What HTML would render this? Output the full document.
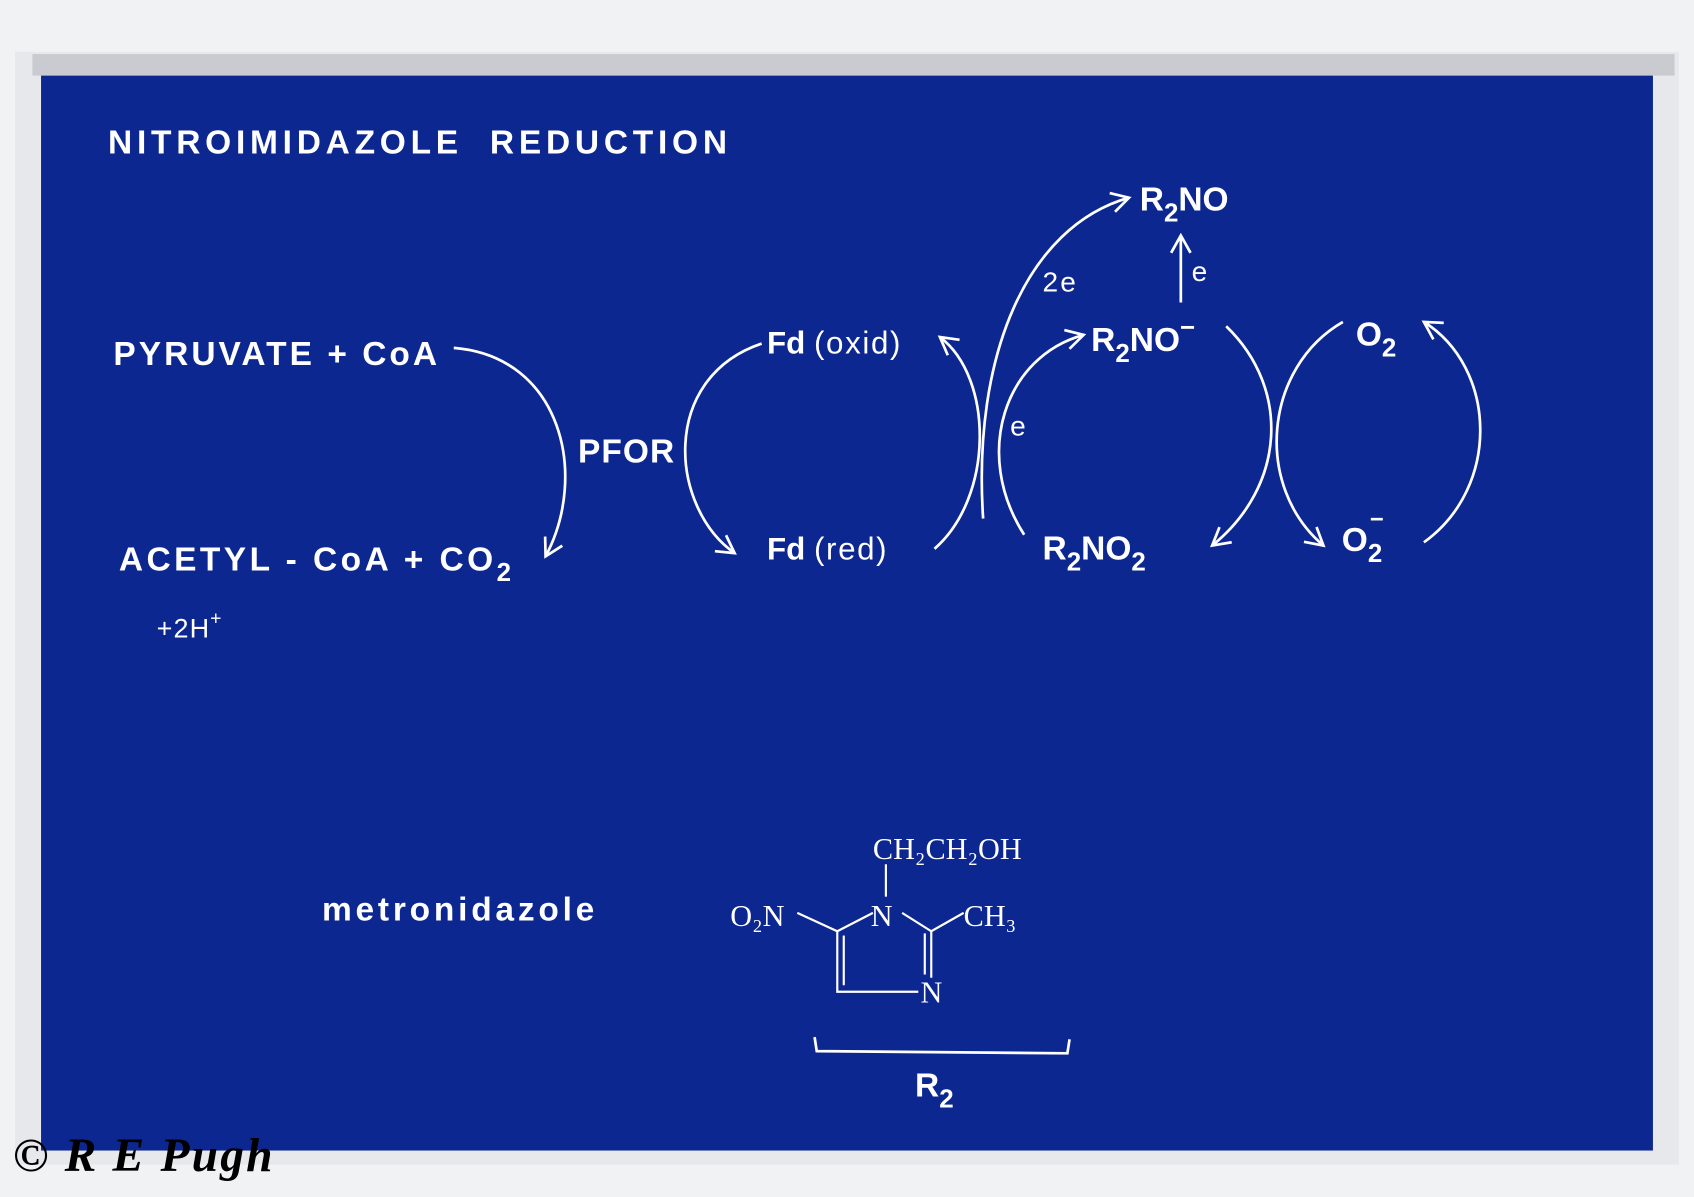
<!DOCTYPE html>
<html><head><meta charset="utf-8"><style>
html,body{margin:0;padding:0;width:1694px;height:1197px;overflow:hidden;background:#eef0f3}
svg{display:block}
text{font-family:"Liberation Sans",sans-serif;fill:#fff}
</style></head><body>
<svg width="1694" height="1197" viewBox="0 0 1568 1108" preserveAspectRatio="none" xmlns="http://www.w3.org/2000/svg">
<defs>
<marker id="b" markerWidth="22" markerHeight="22" refX="18" refY="11" orient="auto" markerUnits="userSpaceOnUse" viewBox="0 0 22 22">
<path d="M2,2 L18,11 L2,20" fill="none" stroke="#fff" stroke-width="2.5"/></marker>
</defs>
<rect x="0" y="0" width="1568" height="1108" fill="#f1f2f4"/>
<rect x="14" y="48" width="1540" height="1030" fill="#e6e8ec"/>
<rect x="30" y="50" width="1520" height="20" fill="#c9cbd0"/>
<rect x="38" y="70" width="1492" height="995" fill="#0d2790"/>
<g font-weight="bold">
<text x="100" y="142" font-size="31" letter-spacing="4.4" word-spacing="12">NITROIMIDAZOLE REDUCTION</text>
<text x="105" y="338" font-size="31" letter-spacing="2.8">PYRUVATE + CoA</text>
<text x="110" y="528" font-size="31" letter-spacing="3.2">ACETYL - CoA + CO<tspan font-size="24" dy="10">2</tspan></text>
<text x="145" y="590" font-size="25" font-weight="normal" letter-spacing="1">+2H<tspan dy="-12" font-size="18">+</tspan></text>
<text x="535" y="428" font-size="31" letter-spacing="1">PFOR</text>
<text x="710" y="327" font-size="29">Fd <tspan font-weight="normal" letter-spacing="1.5">(oxid)</tspan></text>
<text x="710" y="518" font-size="29">Fd <tspan font-weight="normal" letter-spacing="1.5">(red)</tspan></text>
<text x="1055" y="195" font-size="31">R<tspan font-size="24" dy="10">2</tspan><tspan dy="-10">NO</tspan></text>
<text x="1010" y="325" font-size="31">R<tspan font-size="24" dy="10">2</tspan><tspan dy="-10">NO</tspan><tspan dy="-14" font-size="24">−</tspan></text>
<text x="965" y="518" font-size="31">R<tspan font-size="24" dy="10">2</tspan><tspan dy="-10">NO</tspan><tspan font-size="24" dy="10">2</tspan></text>
<text x="1255" y="320" font-size="31">O<tspan font-size="24" dy="10">2</tspan></text>
<text x="1242" y="510" font-size="31">O<tspan font-size="24" dy="10">2</tspan></text>
<text x="1268" y="488" font-size="22">−</text>
<text x="298" y="852" font-size="31" letter-spacing="3.5">metronidazole</text>
<text x="847" y="1015" font-size="31">R<tspan font-size="24" dy="10">2</tspan></text>
</g>
<text x="965" y="270" font-size="26" letter-spacing="2">2e</text>
<text x="1103" y="260" font-size="26">e</text>
<text x="935" y="403" font-size="26">e</text>
<g fill="none" stroke="#fff" stroke-width="2.5">
<path d="M420,322 C520,330 545,440 505,515" marker-end="url(#b)"/>
<path d="M705,318 C610,350 620,470 680,512" marker-end="url(#b)"/>
<path d="M865,508 C920,460 920,350 870,312" marker-end="url(#b)"/>
<path d="M910,480 C900,330 950,210 1045,183" marker-end="url(#b)"/>
<path d="M948,495 C900,420 930,330 1003,310" marker-end="url(#b)"/>
<path d="M1093,280 L1093,218" marker-end="url(#b)"/>
<path d="M1135,302 C1195,360 1190,450 1122,505" marker-end="url(#b)"/>
<path d="M1243,298 C1170,340 1160,450 1225,505" marker-end="url(#b)"/>
<path d="M1318,502 C1390,450 1385,340 1318,298" marker-end="url(#b)"/>
<path d="M754,960 L756,973 L988,975 L990,962"/>
</g>
<g font-size="28">
<text x="808" y="795" style="font-family:'Liberation Serif',serif">CH₂CH₂OH</text>
<text x="676" y="857" style="font-family:'Liberation Serif',serif">O₂N</text>
<text x="806" y="857" style="font-family:'Liberation Serif',serif">N</text>
<text x="892" y="857" style="font-family:'Liberation Serif',serif">CH₃</text>
<text x="852" y="928" style="font-family:'Liberation Serif',serif">N</text>
</g>
<g fill="none" stroke="#fff" stroke-width="2">
<path d="M820,800 L820,830"/>
<path d="M738,845 L775,862 L808,845"/>
<path d="M835,845 L862,862 L892,845"/>
<path d="M775,862 L775,918 L850,918"/>
<path d="M862,862 L862,905 M856,864 L856,902"/>
<path d="M781,866 L781,912"/>
</g>
<text x="12" y="1084" font-size="44" font-weight="bold" letter-spacing="2" style="fill:#000;font-family:'Liberation Serif',serif;font-style:italic">© R E Pugh</text>
</svg>
</body></html>
